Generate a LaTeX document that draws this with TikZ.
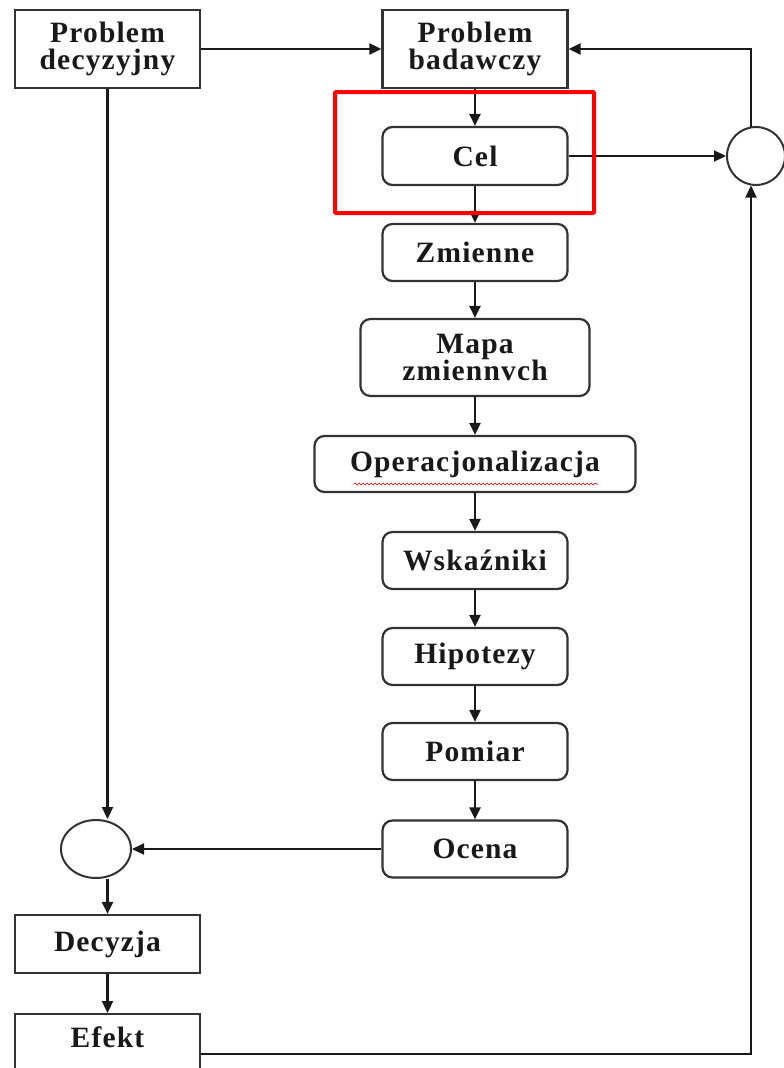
\documentclass[tikz,border=0pt]{standalone}
\usepackage{fontspec}
\setmainfont{Liberation Serif}
\newfontfamily\boxfont[LetterSpace=4]{Liberation Serif}
\usetikzlibrary{arrows.meta,shapes.geometric,decorations.pathmorphing}
\begin{document}
\begin{tikzpicture}[x=1pt,y=-1pt,
  base/.style={draw=black!80, line width=2.2pt, fill=white, inner sep=0pt, align=center,
    font=\boxfont\fontsize{29.5}{27}\selectfont\bfseries, text=black!90},
  sqbox/.style={base, minimum width=185pt, minimum height=78pt},
  rbox/.style={base, rounded corners=10pt, minimum width=185pt, minimum height=57pt},
  junct/.style={draw=black!80, line width=2pt, fill=white, ellipse, inner sep=0pt},
  arr/.style={draw=black!90, line width=2.2pt, -{Triangle[length=12pt,width=11pt]}},
  ln/.style={draw=black!90, line width=2.2pt}]
\useasboundingbox (0,0) rectangle (784,1068);
\fill[white] (0,0) rectangle (784,1068);

\node[sqbox] (pd) at (107.5,49) {Problem\\decyzyjny};
\node[sqbox] (pb) at (475,49) {Problem\\badawczy};
\node[rbox, minimum height=58pt] (cel) at (475,156) {Cel};
\node[rbox] (zm) at (475,252.5) {Zmienne};
\node[rbox, minimum width=229pt, minimum height=77pt] (mapa) at (475,357.5) {Mapa\\zmiennvch};
\node[rbox, minimum width=321pt, minimum height=56pt] (oper) at (475,464) {Operacjonalizacja};
\node[rbox] (wsk) at (475,560.5) {Wskaźniki};
\node[rbox] (hip) at (475,656.5) {Hipotezy};
\node[rbox] (pom) at (475,751.5) {Pomiar};
\node[rbox] (oce) at (475,849) {Ocena};
\node[sqbox, minimum height=58pt] (dec) at (107.5,944) {Decyzja};
\node[sqbox, minimum height=58pt, anchor=north] (efe) at (107.5,1013) {};
\node[base, draw=none, fill=none] (efet) at (107.5,1037) {Efekt};

\node[junct, minimum width=58pt, minimum height=58pt] (rc) at (756,156) {};
\node[junct, minimum width=70pt, minimum height=58pt] (lc) at (96,849) {};

\coordinate (efo) at ([yshift=-11pt]efe.east);
\coordinate (rcn) at ([xshift=-5pt,yshift=-0.5pt]rc.north);
\coordinate (rcs) at ([xshift=-5pt,yshift=0.5pt]rc.south);

\draw[arr] (pd.east) -- (pb.west);
\draw[arr] (pb.south) -- (cel.north);
\draw[arr] (cel.south) -- (zm.north);
\draw[arr] (zm.south) -- (mapa.north);
\draw[arr] (mapa.south) -- (oper.north);
\draw[arr] (oper.south) -- (wsk.north);
\draw[arr] (wsk.south) -- (hip.north);
\draw[arr] (hip.south) -- (pom.north);
\draw[arr] (pom.south) -- (oce.north);
\draw[arr] (cel.east) -- (rc.west);
\draw[arr] (rcn) |- (pb.east);
\draw[arr] (efo) -| (rcs);
\draw[arr] (pd.south) -- (pd.south |- lc.north);
\draw[arr] (oce.west) -- (lc.east);
\draw[arr] (dec.north |- lc.south) -- (dec.north);
\draw[arr] (dec.south) -- (efe.north);

\draw[red!75!black, line width=0.6pt, decorate,
  decoration={snake, segment length=4pt, amplitude=1pt}]
  ([xshift=-121pt,yshift=-20pt]oper.center) -- ([xshift=123pt,yshift=-20pt]oper.center);

\draw[red, line width=4pt, rounded corners=1pt] (335,92) rectangle (594,213);
\end{tikzpicture}
\end{document}
